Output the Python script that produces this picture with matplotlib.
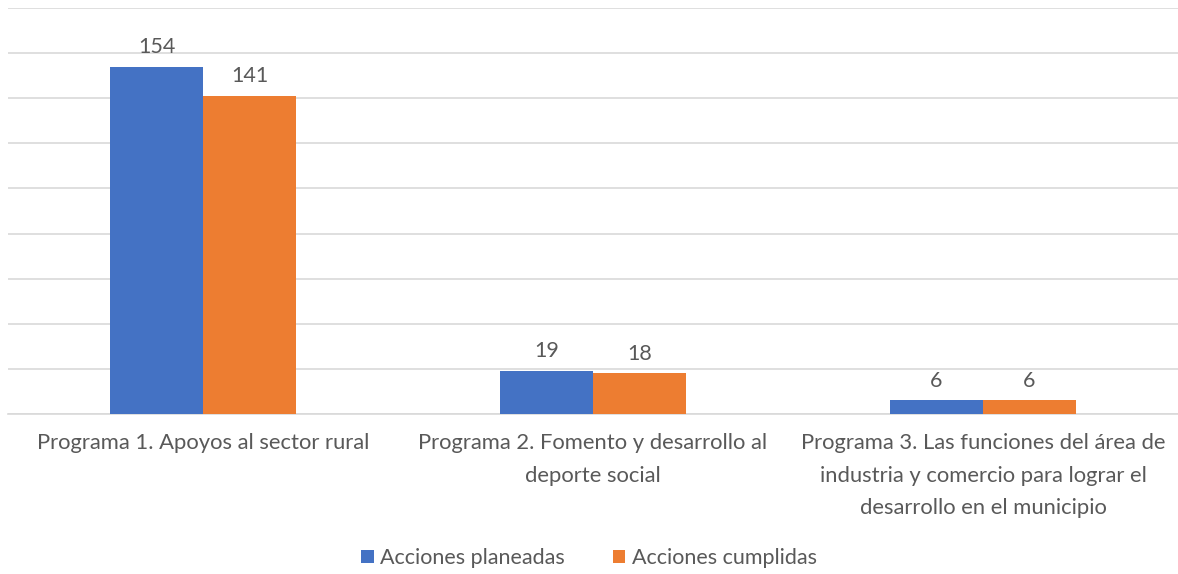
import matplotlib.pyplot as plt
import numpy as np

# -------------------------
# DATA
# -------------------------
categories = [
    "Programa 1. Apoyos al sector rural",
    "Programa 2. Fomento y desarrollo al\ndeporte social",
    "Programa 3. Las funciones del área de\nindustria y comercio para lograr el\ndesarrollo en el municipio",
]
planeadas = [154, 19, 6]
cumplidas = [141, 18, 6]
series_names = ["Acciones planeadas", "Acciones cumplidas"]

# -------------------------
# STYLE
# -------------------------
plt.rcParams['font.family'] = ['Lato', 'DejaVu Sans']
blue = '#4472C4'
orange = '#ED7D31'
text_color = '#595959'

fig = plt.figure(figsize=(11.78, 5.74), dpi=100)
ax = fig.add_axes([8 / 1178, 1 - 414 / 574, 1170 / 1178, 406 / 574])

x = np.arange(len(categories))
w = 0.2385

b1 = ax.bar(x - w / 2, planeadas, w, color=blue, label=series_names[0], zorder=3)
b2 = ax.bar(x + w / 2, cumplidas, w, color=orange, label=series_names[1], zorder=3)

for bars in (b1, b2):
    for r in bars:
        ax.annotate(str(int(r.get_height())), (r.get_x() + r.get_width() / 2, r.get_height()),
                    xytext=(0, 7), textcoords='offset points', ha='center', va='bottom',
                    fontsize=15.5, color=text_color)

ax.set_xlim(-0.5, len(categories) - 0.5)
ax.set_ylim(0, 180)
ax.set_yticks(np.arange(0, 181, 20))
ax.yaxis.grid(True, color='#D9D9D9', linewidth=1.2, zorder=0)
ax.tick_params(axis='y', left=False, labelleft=False)
ax.tick_params(axis='x', bottom=False, pad=10)
ax.set_xticks(x)
ax.set_xticklabels(categories, fontsize=15.8, color=text_color, linespacing=1.8)
for s in ['top', 'right', 'left']:
    ax.spines[s].set_visible(False)
ax.spines['bottom'].set_color('#D9D9D9')
ax.spines['bottom'].set_linewidth(1.2)

fig.legend(loc='center', bbox_to_anchor=(0.5, 1 - 558 / 574), ncol=2, frameon=False,
           fontsize=15.5, handlelength=0.6, handleheight=0.6, columnspacing=2.2,
           handletextpad=0.3, labelcolor=text_color)

fig.savefig('out.png', dpi=100)
